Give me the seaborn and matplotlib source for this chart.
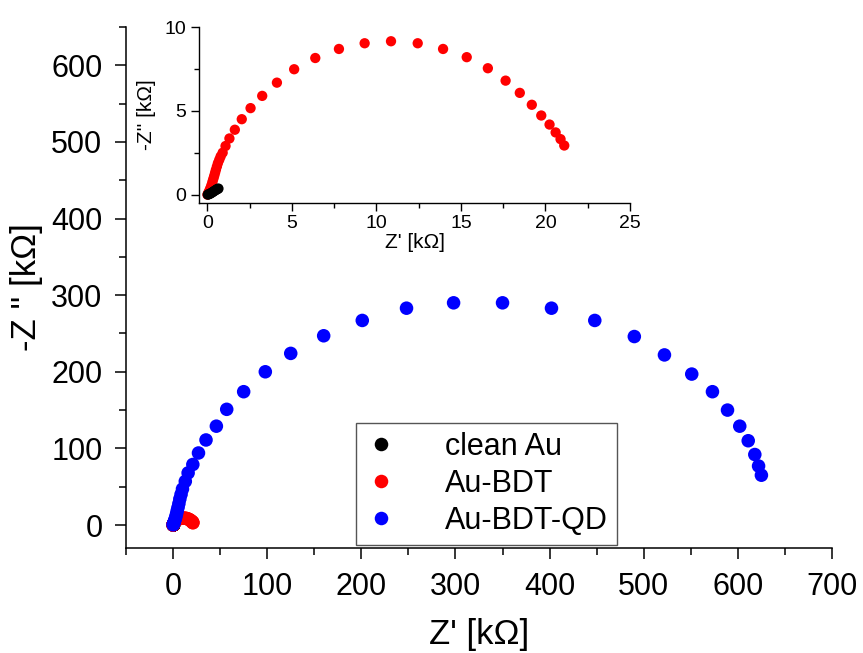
import numpy as np
import pandas as pd
import matplotlib
matplotlib.use("Agg")
import matplotlib.pyplot as plt
from matplotlib.ticker import MultipleLocator
import seaborn as sns

# Impedance spectra (Nyquist), Z' and -Z'' in kOhm
clean_au_zre = [0.02, 0.08, 0.14, 0.2, 0.26, 0.32, 0.38, 0.44, 0.5, 0.55, 0.6, 0.65]
clean_au_zim = [0.0, 0.02, 0.05, 0.08, 0.12, 0.16, 0.2, 0.24, 0.28, 0.31, 0.34, 0.36]

au_bdt_zre = [0.0, 0.05, 0.1, 0.15, 0.2, 0.25, 0.3, 0.35, 0.4, 0.45, 0.5, 0.56,
              0.62, 0.7, 0.78, 0.9, 1.07, 1.30, 1.62, 2.03, 2.55, 3.24, 4.11,
              5.13, 6.38, 7.78, 9.30, 10.86, 12.44, 13.94, 15.34, 16.59, 17.64,
              18.48, 19.19, 19.75, 20.24, 20.6, 20.89, 21.11]
au_bdt_zim = [0.0, 0.1, 0.2, 0.32, 0.45, 0.6, 0.78, 0.95, 1.12, 1.3, 1.48, 1.68,
              1.88, 2.08, 2.28, 2.5, 2.9, 3.35, 3.87, 4.5, 5.16, 5.89, 6.68,
              7.48, 8.15, 8.69, 9.03, 9.15, 9.03, 8.69, 8.20, 7.54, 6.80,
              6.07, 5.36, 4.72, 4.18, 3.71, 3.31, 2.93]

au_bdt_qd_zre = [0.1, 0.3, 0.6, 1.0, 1.5, 2.0, 2.6, 3.2, 3.8, 4.5, 5.3, 6.2,
                 7.2, 8.5, 10, 13, 16, 21, 27, 35, 46, 57, 75, 98, 125, 160,
                 201, 248, 298, 350, 402, 448, 490, 522, 551, 573, 589, 602,
                 611, 618, 622, 625]
au_bdt_qd_zim = [0.3, 1, 2, 3, 5, 7, 9, 12, 15, 19, 23, 28,
                 34, 40, 47, 57, 68, 79, 94, 111, 129, 151, 174, 200, 224, 247,
                 267, 283, 290, 290, 283, 267, 246, 222, 197, 174, 150, 129,
                 110, 92, 77, 65]

series_names = ["clean Au", "Au-BDT", "Au-BDT-QD"]
series_colors = ["#000000", "#ff0000", "#0000ff"]

main_x_ticks = [0, 100, 200, 300, 400, 500, 600, 700]
main_y_ticks = [0, 100, 200, 300, 400, 500, 600]
inset_x_ticks = [0, 5, 10, 15, 20, 25]
inset_y_ticks = [0, 5, 10]

df = pd.concat([
    pd.DataFrame({"zre": clean_au_zre, "zim": clean_au_zim, "sample": series_names[0]}),
    pd.DataFrame({"zre": au_bdt_zre, "zim": au_bdt_zim, "sample": series_names[1]}),
    pd.DataFrame({"zre": au_bdt_qd_zre, "zim": au_bdt_qd_zim, "sample": series_names[2]}),
], ignore_index=True)
palette = dict(zip(series_names, series_colors))

sns.set_theme(style="ticks")
plt.rcParams["font.family"] = ["Liberation Sans", "DejaVu Sans"]
plt.rcParams["axes.linewidth"] = 1.1
plt.rcParams["xtick.direction"] = "out"
plt.rcParams["ytick.direction"] = "out"
plt.rcParams["text.color"] = "black"
plt.rcParams["axes.labelcolor"] = "black"
plt.rcParams["xtick.color"] = "black"
plt.rcParams["ytick.color"] = "black"
plt.rcParams["axes.edgecolor"] = "black"

fig = plt.figure(figsize=(8.63, 6.53), dpi=100)
ax = fig.add_axes([126 / 863, 1 - 548 / 653, (832 - 126) / 863, (548 - 27) / 653])

sns.scatterplot(data=df, x="zre", y="zim", hue="sample", palette=palette,
                hue_order=series_names, s=95, edgecolor="none", linewidth=0,
                ax=ax, zorder=3)

ax.set_xlim(-50, 700)
ax.set_ylim(-30, 650)
ax.set_xticks(main_x_ticks)
ax.set_yticks(main_y_ticks)
ax.xaxis.set_minor_locator(MultipleLocator(50))
ax.yaxis.set_minor_locator(MultipleLocator(50))
ax.tick_params(which="major", length=8, width=1.1, labelsize=22, colors="black", pad=9)
ax.tick_params(which="minor", length=5, width=1.1, colors="black")
ax.set_xlabel("Z' [kΩ]", fontsize=25, labelpad=12, color="black")
ax.set_ylabel("-Z '' [kΩ]", fontsize=25, labelpad=6, color="black")
for side in ("top", "right"):
    ax.spines[side].set_visible(False)

leg = ax.legend(loc="upper left", bbox_to_anchor=(0.326, 0.24), fontsize=22,
                frameon=True, fancybox=False, edgecolor="#555555",
                handlelength=1.0, handletextpad=1.6, labelspacing=0.22,
                borderpad=0.3, borderaxespad=0, markerscale=1.0)
leg.get_frame().set_linewidth(1.0)
leg.get_frame().set_alpha(1.0)
for t in leg.get_texts():
    t.set_color("black")

# Inset: close-up of the Au-BDT and clean Au arcs
ins = fig.add_axes([199 / 863, 1 - 203 / 653, (630 - 199) / 863, (203 - 27) / 653])
inset_df = df[df["sample"] != series_names[2]]
inset_order = [series_names[1], series_names[0]]
for name in inset_order:
    sub = inset_df[inset_df["sample"] == name]
    sns.scatterplot(data=sub, x="zre", y="zim", color=palette[name], s=55,
                    edgecolor="none", linewidth=0, ax=ins, legend=False, zorder=3)
ins.set_xlim(-0.5, 25)
ins.set_ylim(-0.5, 10)
ins.set_xticks(inset_x_ticks)
ins.set_yticks(inset_y_ticks)
ins.xaxis.set_minor_locator(MultipleLocator(2.5))
ins.yaxis.set_minor_locator(MultipleLocator(2.5))
ins.tick_params(which="major", length=6, width=1.0, labelsize=14, colors="black", pad=3)
ins.tick_params(which="minor", length=3.5, width=1.0, colors="black")
ins.set_xlabel("Z' [kΩ]", fontsize=15, labelpad=0, color="black")
ins.set_ylabel("-Z'' [kΩ]", fontsize=15, labelpad=6, color="black")
ins.patch.set_alpha(0)
for side in ("top", "right"):
    ins.spines[side].set_visible(False)
for side in ("left", "bottom"):
    ins.spines[side].set_linewidth(1.0)

fig.savefig("out.png", dpi=100)
